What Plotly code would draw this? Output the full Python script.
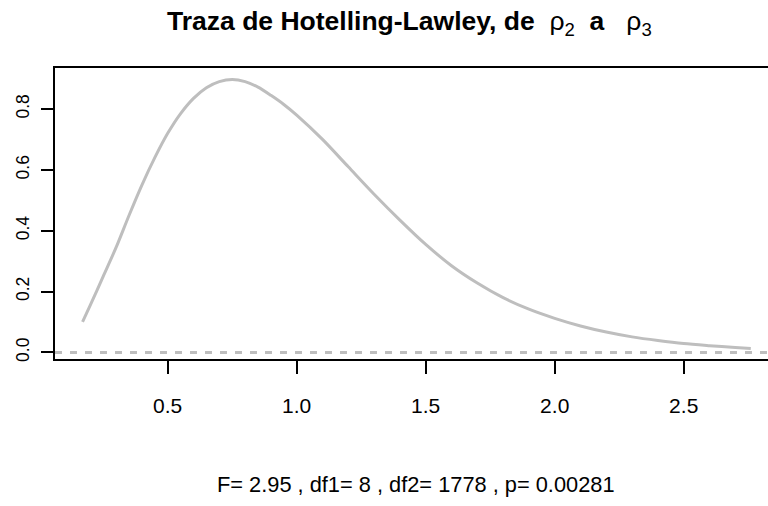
import plotly.graph_objects as go

# Curve
x_vals = [0.17, 0.20, 0.25, 0.30, 0.35, 0.40, 0.45, 0.50, 0.55, 0.60, 0.65, 0.70,
          0.75, 0.80, 0.85, 0.90, 0.95, 1.00, 1.10, 1.20, 1.30, 1.40, 1.50, 1.60,
          1.70, 1.80, 1.90, 2.00, 2.10, 2.20, 2.30, 2.40, 2.50, 2.60, 2.70, 2.76]
y_vals = [0.10, 0.155, 0.25, 0.345, 0.45, 0.55, 0.64, 0.72, 0.785, 0.835, 0.87, 0.89,
          0.897, 0.89, 0.872, 0.845, 0.815, 0.78, 0.70, 0.61, 0.52, 0.435, 0.355, 0.285,
          0.228, 0.18, 0.142, 0.112, 0.087, 0.067, 0.051, 0.039, 0.029, 0.022, 0.016, 0.013]

x_ticks = [0.5, 1.0, 1.5, 2.0, 2.5]
x_tick_labels = ["0.5", "1.0", "1.5", "2.0", "2.5"]
y_ticks = [0.0, 0.2, 0.4, 0.6, 0.8]
y_tick_labels = ["0.0", "0.2", "0.4", "0.6", "0.8"]

title_text = ("<b>Traza de Hotelling-Lawley, de</b> \u00a0ρ<sub>2</sub>\u00a0 <b>a</b> "
              "\u00a0\u00a0ρ<sub>3</sub>")
sub_text = "F= 2.95 , df1= 8 , df2= 1778 , p= 0.00281"

W, H = 768, 506
L, T, R, B = 55, 68, 0, 147
plot_h = H - T - B
plot_w = W - L - R

def py(p):
    return (H - B - p) / plot_h

def px(p):
    return (p - L) / plot_w

fig = go.Figure()
fig.add_trace(go.Scatter(x=x_vals, y=y_vals, mode="lines",
                         line=dict(color="#BEBEBE", width=3, shape="spline", smoothing=0.8),
                         hoverinfo="skip", showlegend=False))

fig.add_hline(y=0, line=dict(color="#BEBEBE", width=3, dash="7px,8px"))

fig.update_layout(
    width=W, height=H,
    margin=dict(l=L, t=T, r=R, b=B),
    paper_bgcolor="white", plot_bgcolor="white",
    font=dict(family="Liberation Sans, Arial, sans-serif", color="black"),
    xaxis=dict(range=[0.0632, 2.8267], tickvals=x_ticks, ticktext=x_tick_labels,
               showgrid=False, zeroline=False, showline=True, linecolor="black",
               linewidth=2, mirror=True, ticks="outside", ticklen=13, tickwidth=2,
               tickcolor="black", tickfont=dict(size=21), ticklabelstandoff=14),
    yaxis=dict(range=[-0.0217, 0.9348], tickvals=y_ticks, ticktext=y_tick_labels,
               showgrid=False, zeroline=False, showline=True, linecolor="black",
               linewidth=2, mirror=False, ticks="outside", ticklen=12, tickwidth=2,
               tickcolor="black", tickfont=dict(size=17.5), tickangle=-90,
               ticklabelstandoff=5),
    annotations=[
        dict(text=title_text, xref="paper", yref="paper", x=px(409.5), y=py(23),
             xanchor="center", yanchor="middle", showarrow=False,
             font=dict(family="Liberation Sans, Arial", size=26.5, color="black")),
        dict(text=sub_text, xref="paper", yref="paper", x=px(416), y=py(484),
             xanchor="center", yanchor="middle", showarrow=False,
             font=dict(size=21.8, color="black")),
    ],
)

fig.write_html("out.html")
